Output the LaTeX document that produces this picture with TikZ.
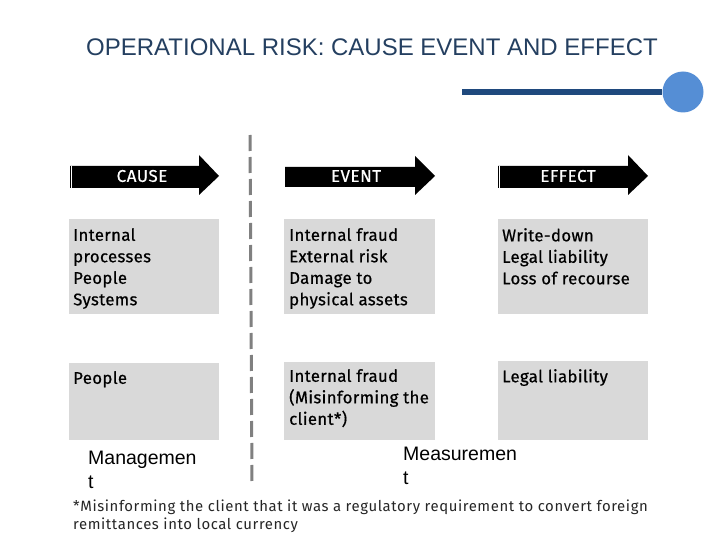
\documentclass[tikz,border=0pt]{standalone}
\usepackage{fontspec}
\setmainfont{Fira Sans}
\newfontfamily\boxfont[LetterSpace=2,FakeBold=0.6]{Fira Sans}
\newfontfamily\footfont[LetterSpace=4]{Fira Sans}
\newfontfamily\labelfont[LetterSpace=3,FakeBold=0.5]{Fira Sans}
\newfontfamily\arialfont{Liberation Sans}
\definecolor{titleblue}{RGB}{36,63,96}
\definecolor{navyline}{RGB}{31,73,125}
\definecolor{dotblue}{RGB}{85,142,213}
\definecolor{boxgray}{RGB}{217,217,217}
\definecolor{dashgray}{RGB}{128,128,128}
\begin{document}
\begin{tikzpicture}[x=1pt,y=-1pt,
  graybox/.style={fill=boxgray,draw=none},
  boxtext/.style={font=\boxfont\fontsize{16.8}{21.5}\selectfont,align=left,inner sep=0pt,anchor=north west,text=black},
  arrowlabel/.style={font=\labelfont\fontsize{17}{17}\selectfont,text=white,inner sep=0pt},
  bigword/.style={font=\arialfont\fontsize{19.5}{24}\selectfont,align=left,inner sep=0pt,anchor=north west,text=black},
  arrowshape/.style={fill=black,draw=none}
]
\useasboundingbox (0,0) rectangle (720,540);

% title
\node[font=\arialfont\fontsize{24}{24}\selectfont,text=titleblue,inner sep=0pt] (title) at (372,47) {OPERATIONAL RISK: CAUSE EVENT AND EFFECT};

% blue line with dot
\node[circle,fill=dotblue,minimum size=41pt,inner sep=0pt] (dot) at (683,92) {};
\coordinate (lstart) at (462,92);
\draw[navyline,line width=6pt] (lstart) -- (dot.west);

% dashed separator
\coordinate (dtop) at (250,135);
\coordinate (dbot) at (252,482);
\draw[dashgray,line width=3pt,dash pattern=on 16pt off 6pt] (dtop) -- (dbot);

% arrows
\fill[arrowshape] (70,166) -- (199,166) -- (199,155) -- (219,176) -- (199,195) -- (199,188) -- (70,188) -- cycle;
\draw[white,line width=0.9pt] (71.8,166) -- (71.8,188);
\fill[arrowshape] (285,167) -- (415,167) -- (415,156) -- (435,176) -- (415,195) -- (415,187) -- (285,187) -- cycle;
\fill[arrowshape] (498,166) -- (628,166) -- (628,155) -- (648,176) -- (628,195) -- (628,188) -- (498,188) -- cycle;
\draw[white,line width=0.9pt] (499.8,166) -- (499.8,188);
\node[arrowlabel] (cause) at (142,176) {CAUSE};
\node[arrowlabel] (event) at (356,176) {EVENT};
\node[arrowlabel] (effect) at (568,176) {EFFECT};

% boxes row 1
\fill[graybox] (69,219) rectangle (219,314);
\fill[graybox] (284,219) rectangle (435,314);
\fill[graybox] (498,219) rectangle (648,314);
% boxes row 2
\fill[graybox] (69,363) rectangle (219,440);
\fill[graybox] (284,362) rectangle (435,440);
\fill[graybox] (498,361) rectangle (648,440);

\node[boxtext] (c1) at (73,228) {Internal\\processes\\People\\Systems};
\node[boxtext] (e1) at (289,228) {Internal fraud\\External risk\\Damage to\\physical assets};
\node[boxtext] (f1) at (502,228) {Write-down\\Legal liability\\Loss of recourse};
\node[boxtext] (c2) at (73,371) {People};
\node[boxtext] (e2) at (289,369) {Internal fraud\\(Misinforming the\\client*)};
\node[boxtext] (f2) at (502,369) {Legal liability};

% bottom words
\node[bigword] (mgmt) at (88,451) {Managemen\\t};
\node[bigword] (meas) at (403,447) {Measuremen\\t};

% footnote
\node[font=\footfont\fontsize{14.9}{18}\selectfont,align=left,inner sep=0pt,anchor=north west,text=black!85] (foot) at (73,500) {*Misinforming the client that it was a regulatory requirement to convert foreign\\remittances into local currency};
\end{tikzpicture}
\end{document}
